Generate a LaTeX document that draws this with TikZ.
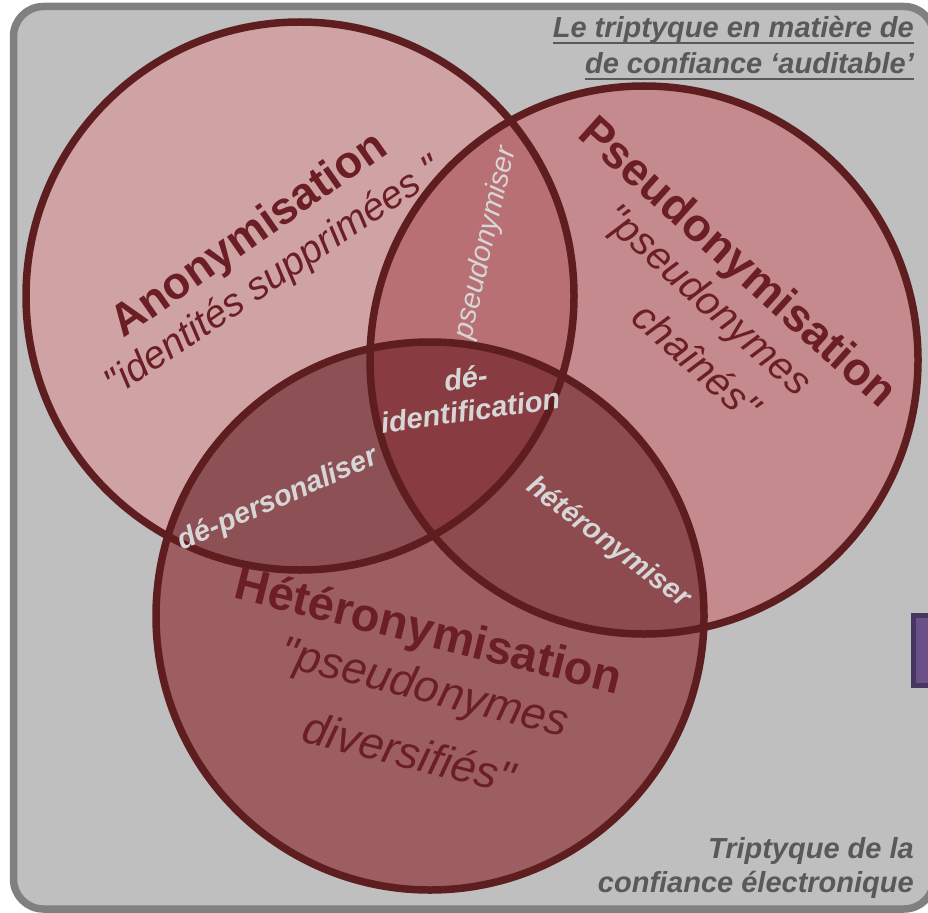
\documentclass[tikz,border=0pt]{standalone}
\usepackage{fontspec}
\setmainfont{Liberation Sans}[Ligatures=TeXOff]
\definecolor{bggrey}{HTML}{BFBFBF}
\definecolor{framegrey}{HTML}{808080}
\definecolor{ring}{HTML}{5E1D1F}
\definecolor{colA}{HTML}{CFA2A4}
\definecolor{colB}{HTML}{C48A8D}
\definecolor{colC}{HTML}{9C5E61}
\definecolor{colAB}{HTML}{B87074}
\definecolor{colAC}{HTML}{8D5054}
\definecolor{colBC}{HTML}{8E4B4F}
\definecolor{colABC}{HTML}{883B40}
\definecolor{maroontxt}{HTML}{6B1E23}
\definecolor{lighttxt}{HTML}{D6D6D6}
\definecolor{greytxt}{HTML}{595959}
\definecolor{purpfill}{HTML}{6A4F88}
\definecolor{purpdark}{HTML}{463660}
\tikzset{
  bigtitle/.style={font=\bfseries\fontsize{45}{50}\selectfont, text=maroontxt, inner sep=0pt},
  quotetxt/.style={font=\itshape\fontsize{40}{46}\selectfont, text=maroontxt, inner sep=0pt, align=center},
  lightlbl/.style={font=\bfseries\itshape\fontsize{29}{33}\selectfont, text=lighttxt, inner sep=0pt, align=center},
  cornertxt/.style={font=\bfseries\itshape\fontsize{29}{33}\selectfont, text=greytxt, inner sep=0pt},
  ringline/.style={draw=ring, line width=7.5pt}
}
\begin{document}
\begin{tikzpicture}[x=1pt,y=-1pt]
\useasboundingbox (0,0) rectangle (928,912);
\begin{scope}
\clip (0,0) rectangle (928,912);
\draw[line width=7.5pt, draw=framegrey, fill=bggrey, rounded corners=30pt] (13.5,6.5) rectangle (934,909);
\draw[line width=5pt, draw=purpdark, fill=purpfill] (913.5,615.5) rectangle (945,685);
\end{scope}
\coordinate (cA) at (300,296);
\coordinate (cB) at (644,360);
\coordinate (cC) at (430,616);
\fill[colA] (cA) circle (274pt);
\fill[colB] (cB) circle (274pt);
\fill[colC] (cC) circle (274pt);
\begin{scope}\clip (cA) circle (274pt); \fill[colAB] (cB) circle (274pt); \end{scope}
\begin{scope}\clip (cA) circle (274pt); \fill[colAC] (cC) circle (274pt); \end{scope}
\begin{scope}\clip (cB) circle (274pt); \fill[colBC] (cC) circle (274pt); \end{scope}
\begin{scope}\clip (cA) circle (274pt); \clip (cB) circle (274pt); \fill[colABC] (cC) circle (274pt); \end{scope}
\draw[ringline] (cA) circle (274pt);
\draw[ringline] (cB) circle (274pt);
\draw[ringline] (cC) circle (274pt);
% titles
\node[bigtitle, rotate=35] (anon) at (250,236) {Anonymisation};
\node[quotetxt, rotate=34, font=\itshape\fontsize{39}{44}\selectfont] (anonq) at (274,278) {"identités supprimées "};
\node[bigtitle, rotate=-42, font=\bfseries\fontsize{46}{50}\selectfont] (pseudo) at (736,264) {Pseudonymisation};
\node[quotetxt, rotate=-42] (pseudoq1) at (706,302) {"pseudonymes};
\node[quotetxt, rotate=-42] (pseudoq2) at (697,361) {chaînés"};
\node[bigtitle, rotate=-14, font=\bfseries\fontsize{47}{52}\selectfont] (hetero) at (428,634) {Hétéronymisation};
\node[quotetxt, rotate=-14, font=\itshape\fontsize{45}{53}\selectfont] (heteroq1) at (424,690) {"pseudonymes};
\node[quotetxt, rotate=-14, font=\itshape\fontsize{45}{53}\selectfont] (heteroq2) at (409,752) {diversifiés"};
% intersection labels
\node[lightlbl, font=\itshape\fontsize{29}{33}\selectfont, rotate=77] (lab1) at (486,243) {pseudonymiser};
\node[lightlbl, rotate=8] (lab2) at (468,394) {dé-\\identification};
\node[lightlbl, rotate=24] (lab3) at (278,500) {dé-personaliser};
\node[lightlbl, rotate=-37, font=\bfseries\itshape\fontsize{28.5}{33}\selectfont] (lab4) at (608,543) {hétéronymiser};
% corner texts
\node[cornertxt, anchor=base east] (t1) at (914,38) {Le triptyque en matière de};
\node[cornertxt, anchor=base east] (t2) at (914,74) {de confiance ‘auditable’};
\draw[draw=greytxt, line width=2.5pt] ([yshift=-5pt]t1.base west) -- ([yshift=-5pt]t1.base east);
\draw[draw=greytxt, line width=2.5pt] ([yshift=-5pt]t2.base west) -- ([yshift=-5pt]t2.base east);
\node[cornertxt, anchor=base east] (b1) at (914,858) {Triptyque de la};
\node[cornertxt, anchor=base east] (b2) at (914,892) {confiance électronique};
\end{tikzpicture}
\end{document}
